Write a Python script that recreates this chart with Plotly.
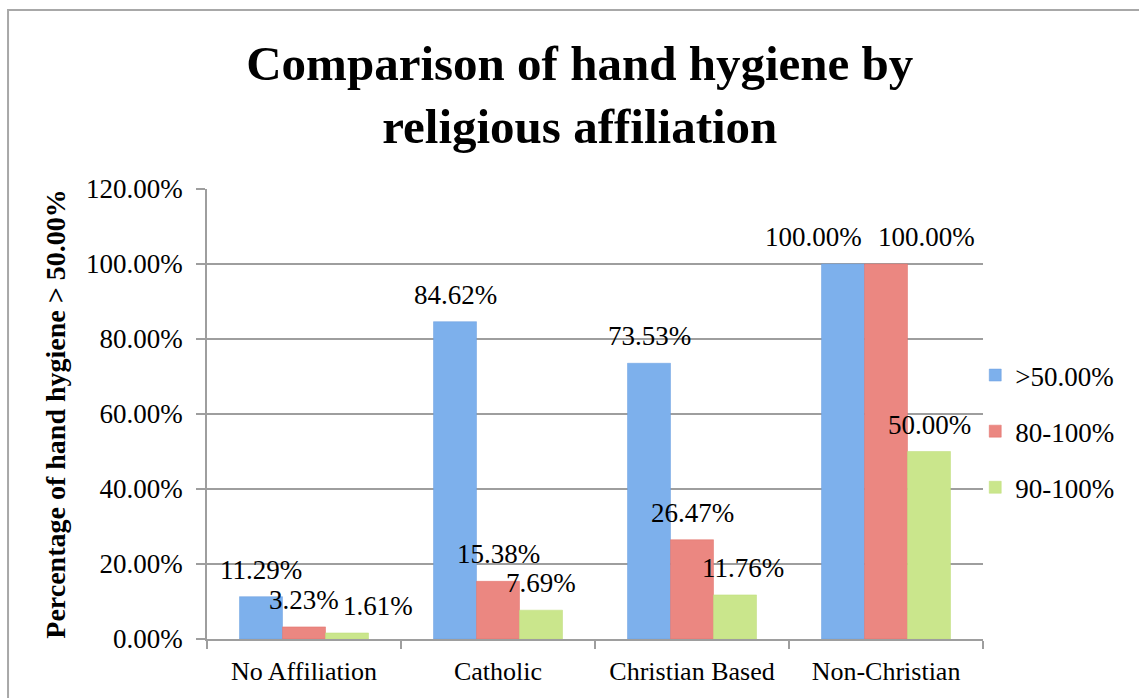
import plotly.graph_objects as go

categories = ["No Affiliation", "Catholic", "Christian Based", "Non-Christian"]
series_names = [">50.00%", "80-100%", "90-100%"]
above_50 = [11.29, 84.62, 73.53, 100.00]
range_80_100 = [3.23, 15.38, 26.47, 100.00]
range_90_100 = [1.61, 7.69, 11.76, 50.00]
series_values = [above_50, range_80_100, range_90_100]

# style: colours and per-label horizontal nudges (px) to avoid overlaps, as in the original
colors = ["#7DB0EC", "#EB8781", "#CAE68C"]
outline = ["#6A9FE0", "#E06F68", "#BEDC78"]
label_nudge = [
    [0, 0, 0, -30],
    [0, 0, 0, 40],
    [31, 0, 8, 0],
]

FONT = "Liberation Serif"
BAR_PX = 43  # approx. rendered bar width, for placing labels over each bar of a group

fig = go.Figure()
for name, vals, c, oc in zip(series_names, series_values, colors, outline):
    fig.add_trace(go.Bar(
        x=categories, y=vals, name=name, legendgroup=name,
        marker=dict(color=c, line=dict(color=oc, width=0.5)),
        cliponaxis=False,
    ))

annotations = []
for i, vals in enumerate(series_values):
    for j, (cat, v) in enumerate(zip(categories, vals)):
        annotations.append(dict(
            x=cat, y=v, xref="x", yref="y",
            text=f"{v:.2f}%", showarrow=False,
            xanchor="center", yanchor="middle",
            xshift=(i - 1) * BAR_PX + label_nudge[i][j], yshift=27,
            font=dict(family=FONT, size=27, color="#000000"),
        ))

fig.update_layout(
    width=1139, height=698,
    margin=dict(l=207, r=156, t=189, b=59),
    paper_bgcolor="white", plot_bgcolor="white",
    barmode="group", bargap=0.335, bargroupgap=0,
    title=dict(
        text="Comparison of hand hygiene by<br>religious affiliation",
        x=0.509, xanchor="center", yref="container", y=0.886, yanchor="middle",
        font=dict(family=FONT, size=49, color="#000000", weight="bold"),
    ),
    font=dict(family=FONT, color="#000000"),
    legend=dict(
        x=0.99, xanchor="left", y=0.64, yanchor="top",
        font=dict(family=FONT, size=27, color="#000000"),
        itemwidth=30, traceorder="grouped", tracegroupgap=18,
        bgcolor="rgba(0,0,0,0)",
    ),
    annotations=annotations,
    showlegend=True,
)
fig.update_xaxes(
    showline=True, linecolor="#9E9E9E", linewidth=1.5,
    ticks="outside", tickson="boundaries", ticklen=8, tickcolor="#9E9E9E", tickwidth=1.5,
    tickfont=dict(family=FONT, size=26, color="#000000"),
    ticklabelstandoff=8,
    showgrid=False,
)
fig.update_yaxes(
    range=[0, 120], dtick=20, tickformat=".2f", ticksuffix="%",
    showline=True, linecolor="#9E9E9E", linewidth=1.5,
    ticks="outside", ticklen=9, tickcolor="#9E9E9E", tickwidth=1.5,
    showgrid=True, gridcolor="#9E9E9E", gridwidth=1.5,
    tickfont=dict(family=FONT, size=27, color="#000000"),
    ticklabelstandoff=8,
    title=dict(text="Percentage of hand hygiene > 50.00%",
               font=dict(family=FONT, size=28, color="#000000", weight="bold"),
               standoff=12),
    zeroline=False,
)
fig.add_shape(type="rect", xref="paper", yref="paper",
              x0=-0.2564, x1=1.25, y0=-0.2, y1=1.3978,
              line=dict(color="#A8A8A8", width=2), fillcolor="rgba(0,0,0,0)", layer="below")

fig.write_html("out.html")
